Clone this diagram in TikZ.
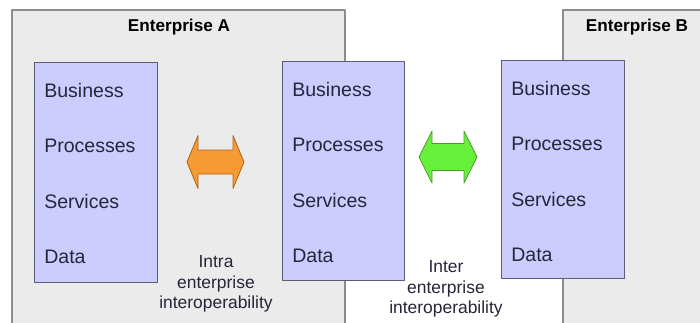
\documentclass[tikz,border=0pt]{standalone}
\usepackage{fontspec}
\setmainfont{Liberation Sans}

\definecolor{entfill}{HTML}{EBEBEB}
\definecolor{entline}{HTML}{8C8C8C}
\definecolor{layfill}{HTML}{CCCCFF}
\definecolor{layline}{HTML}{5C5C78}
\definecolor{intrafill}{HTML}{F79A33}
\definecolor{intraline}{HTML}{B0661A}
\definecolor{interfill}{HTML}{66F03A}
\definecolor{interline}{HTML}{4E9A2E}
\definecolor{txt}{HTML}{26263A}

\def\px{0.025cm}

\begin{document}
\begin{tikzpicture}[x=\px, y=-\px, line join=round,
    enterprise/.style={fill=entfill, draw=entline, line width=0.8pt},
    layers/.style={fill=layfill, draw=layline, line width=0.6pt, inner sep=0pt},
    layer/.style={anchor=base west, inner sep=0pt, text=txt,
                  font=\fontsize{13.9}{16}\selectfont},
    title/.style={font=\fontsize{12.2}{14}\selectfont\bfseries, text=black},
    note/.style={align=center, text=txt, inner sep=0pt,
                 font=\fontsize{12.4}{14.4}\selectfont}
  ]

    \clip (0,0) rectangle (700,323);
    \fill [white] (0,0) rectangle (700,323);

    \draw [enterprise] (12,10) rectangle (345,340);
    \draw [enterprise] (563,10) rectangle (720,340);
    \node [title] (titleA) at (179,27) {Enterprise A};
    \node [title] (titleB) at (637,27) {Enterprise B};

    \foreach \n/\x/\y/\w/\h in {A/34/62/123/220, M/282/61/122/219, B/501/60/123/218}{
        \node [layers, anchor=north west, minimum width=\w*\px,
               minimum height=\h*\px] (\n) at (\x,\y) {};
        \foreach \lbl [count=\k, evaluate={\dy=35+55.5*(\k-1);}]
            in {Business,Processes,Services,Data}
            \node [layer] (\n\k) at ([shift={(10,\dy)}]\n.north west) {\lbl};
    }

    \foreach \lx/\rx/\cy/\hh/\sh/\hl/\cf/\cl in
        {187/244/162/26.5/12/11/intrafill/intraline,
         419/477/157/26/13.5/13/interfill/interline}
        \filldraw [fill=\cf, draw=\cl, line width=0.6pt]
            (\lx,\cy) -- (\lx+\hl,\cy-\hh) -- (\lx+\hl,\cy-\sh) --
            (\rx-\hl,\cy-\sh) -- (\rx-\hl,\cy-\hh) -- (\rx,\cy) --
            (\rx-\hl,\cy+\hh) -- (\rx-\hl,\cy+\sh) -- (\lx+\hl,\cy+\sh) --
            (\lx+\hl,\cy+\hh) -- cycle;

    \node [note] (intra) at (216,284) {Intra\\enterprise\\interoperability};
    \node [note] (inter) at (446,289) {Inter\\enterprise\\interoperability};

\end{tikzpicture}
\end{document}
